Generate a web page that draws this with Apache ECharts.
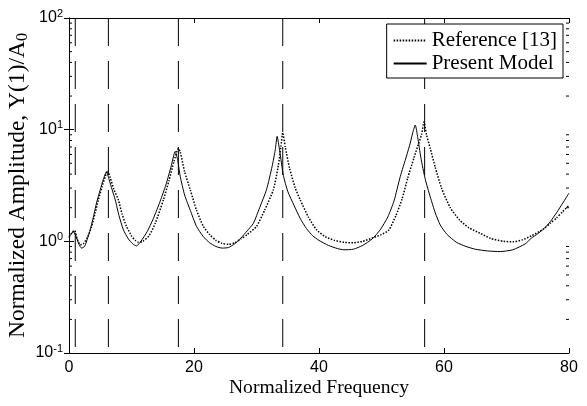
<!DOCTYPE html>
<html><head><meta charset="utf-8">
<script src="https://cdn.jsdelivr.net/npm/echarts@6/dist/echarts.min.js"></script>
<style>html,body{margin:0;padding:0;background:#fff}#c{width:587px;height:406px}</style>
</head><body><div id="c"></div>
<script>
// Reference [13] (dotted)
const refX = [0, 0.5, 0.9, 1.3, 1.8, 2.3, 3.0, 3.6, 4.2, 4.7, 5.3, 5.8, 6.2, 6.6, 7.2, 7.9, 8.5, 9.2, 10.0, 10.6, 11.1, 11.8, 12.8, 13.8, 15.1, 16.0, 16.8, 17.5, 17.8, 18.5, 19.4, 20.4, 21.5, 22.5, 23.5, 24.5, 25.5, 26.5, 27.5, 28.5, 30.0, 31.3, 32.7, 33.5, 33.9, 34.2, 34.6, 35.3, 36.2, 37.0, 38.3, 39.6, 41.0, 42.5, 44.0, 45.5, 47.0, 48.5, 50.0, 51.2, 52.3, 53.3, 54.2, 55.2, 55.9, 56.4, 56.8, 57.2, 57.8, 58.6, 59.6, 61.0, 62.5, 64.0, 65.8, 67.5, 69.5, 71.0, 72.5, 74.0, 76.0, 77.0, 78.0, 79.0, 80.0];
const refY = [1.1, 1.2, 1.25, 1.05, 0.93, 0.95, 1.1, 1.35, 1.8, 2.35, 3.1, 3.8, 4.3, 3.7, 2.9, 2.35, 1.75, 1.36, 1.12, 1.02, 0.98, 1.0, 1.12, 1.45, 2.35, 3.5, 5.2, 6.8, 6.3, 4.2, 2.9, 1.9, 1.36, 1.15, 1.02, 0.96, 0.94, 0.97, 1.05, 1.15, 1.36, 1.9, 2.9, 4.8, 7.0, 9.4, 7.0, 4.5, 3.0, 2.35, 1.65, 1.27, 1.1, 1.02, 0.98, 0.97, 1.0, 1.07, 1.15, 1.27, 1.7, 2.4, 3.7, 5.6, 7.4, 9.0, 11.7, 9.0, 6.8, 4.6, 3.0, 2.0, 1.55, 1.32, 1.18, 1.06, 1.0, 0.99, 1.03, 1.12, 1.3, 1.45, 1.62, 1.85, 2.1];
// Present Model (solid)
const modelX = [0, 0.3, 0.7, 1.2, 1.6, 2.0, 2.5, 3.0, 3.4, 4.0, 4.4, 5.0, 5.5, 6.0, 6.4, 6.9, 7.4, 8.0, 8.7, 9.5, 10.2, 10.8, 11.5, 12.5, 13.5, 14.6, 15.5, 16.3, 17.0, 17.4, 17.8, 18.5, 19.4, 20.4, 21.5, 22.5, 23.5, 24.5, 25.5, 26.5, 27.5, 28.5, 29.5, 30.5, 31.6, 32.5, 33.0, 33.3, 33.7, 34.3, 35.0, 36.0, 37.0, 38.0, 39.0, 40.0, 41.5, 43.0, 44.0, 45.5, 47.0, 48.5, 49.8, 51.0, 52.0, 53.0, 54.0, 54.6, 55.0, 55.4, 55.8, 56.3, 57.0, 57.8, 58.6, 59.4, 60.5, 62.0, 63.5, 65.0, 67.0, 69.0, 71.0, 73.0, 74.0, 75.0, 76.0, 77.0, 78.0, 79.0, 80.0];
const modelY = [1.08, 1.15, 1.22, 1.08, 0.94, 0.87, 0.9, 1.08, 1.27, 1.75, 2.2, 2.9, 3.6, 4.2, 3.6, 2.9, 2.35, 1.7, 1.27, 1.05, 0.95, 0.91, 1.0, 1.22, 1.6, 2.3, 3.2, 4.6, 6.4, 5.3, 3.8, 2.6, 1.9, 1.36, 1.1, 0.97, 0.9, 0.87, 0.88, 0.95, 1.07, 1.24, 1.45, 2.0, 2.9, 4.7, 6.6, 8.7, 6.5, 3.9, 2.8, 2.1, 1.6, 1.3, 1.12, 1.02, 0.92, 0.86, 0.84, 0.85, 0.92, 1.05, 1.27, 1.65, 2.3, 3.8, 5.8, 7.6, 9.4, 11.0, 8.5, 5.6, 3.6, 2.5, 1.8, 1.4, 1.15, 0.98, 0.9, 0.85, 0.82, 0.81, 0.84, 0.95, 1.07, 1.17, 1.3, 1.5, 1.8, 2.2, 2.7];
// Vertical dashed resonance markers
const resonanceX = [1.0, 6.3, 17.5, 34.2, 56.9];
// Axis ticks
const xTicks = [0, 20, 40, 60, 80];
const yTicks = [0.1, 1, 10, 100];
const yMinorTicks = [0.2,0.3,0.4,0.5,0.6,0.7,0.8,0.9, 2,3,4,5,6,7,8,9, 20,30,40,50,60,70,80,90];

const zip = (xs, ys) => xs.map((x, i) => [x, ys[i]]);
const chart = echarts.init(document.getElementById('c'), null, {renderer: 'canvas'});
const serif = '"Liberation Serif", "Times New Roman", serif';
const sans = '"Liberation Sans", Arial, sans-serif';

const dashedSeries = resonanceX.map(x => ({
  type: 'line', data: [[x, yTicks[yTicks.length - 1]], [x, yTicks[0]]],
  symbol: 'none', silent: true, z: 1,
  lineStyle: {color: '#000', width: 1, type: [28, 15]}
}));

const minorSeries = {
  type: 'custom', silent: true, z: 5, clip: false,
  data: yMinorTicks.map(v => [xTicks[0], v]),
  renderItem: (params, api) => {
    const v = api.value(1);
    const l = api.coord([xTicks[0], v]);
    const r = api.coord([xTicks[xTicks.length - 1], v]);
    const st = {stroke: '#000', lineWidth: 1};
    return {type: 'group', children: [
      {type: 'line', shape: {x1: l[0], y1: l[1], x2: l[0] + 3, y2: l[1]}, style: st},
      {type: 'line', shape: {x1: r[0], y1: r[1], x2: r[0] - 3, y2: r[1]}, style: st}
    ]};
  }
};

chart.setOption({
  animation: false,
  backgroundColor: '#fff',
  grid: {left: 69, right: 18, top: 18, bottom: 53, containLabel: false, outerBoundsMode: 'none'},
  legend: {
    right: 24, top: 24, orient: 'vertical', align: 'left',
    backgroundColor: '#fff', borderColor: '#000', borderWidth: 1, borderRadius: 0,
    padding: [6, 6, 4, 6], itemGap: 2, itemWidth: 33, itemHeight: 14,
    itemStyle: {opacity: 0},
    textStyle: {fontFamily: serif, fontSize: 21, color: '#000'},
    data: ['Reference [13]', 'Present Model']
  },
  xAxis: [{
    type: 'value', min: xTicks[0], max: xTicks[xTicks.length - 1], interval: 20,
    name: 'Normalized Frequency', nameLocation: 'middle', nameGap: 25, nameMoveOverlap: false,
    nameTextStyle: {fontFamily: serif, fontSize: 19.6, color: '#000'},
    axisLine: {lineStyle: {color: '#000', width: 1}},
    axisTick: {inside: true, length: 5, lineStyle: {color: '#000'}},
    axisLabel: {fontFamily: sans, fontSize: 16, color: '#000', margin: 7},
    splitLine: {show: false}
  }, {
    type: 'value', position: 'top', min: xTicks[0], max: xTicks[xTicks.length - 1], interval: 20,
    axisLine: {show: true, lineStyle: {color: '#000', width: 1}},
    axisTick: {inside: true, length: 5, lineStyle: {color: '#000'}},
    axisLabel: {show: false}, splitLine: {show: false}
  }],
  yAxis: [{
    type: 'log', logBase: 10, min: yTicks[0], max: yTicks[yTicks.length - 1],
    name: '{t|Normalized Amplitude, Y(1)/A}{s|0}', nameLocation: 'middle', nameGap: 38, nameRotate: 90,
    nameMoveOverlap: false,
    nameTextStyle: {
      fontFamily: serif, fontSize: 23.5, color: '#000',
      rich: {t: {fontFamily: serif, fontSize: 23.5, color: '#000'},
             s: {fontFamily: serif, fontSize: 16, color: '#000', padding: [10, 0, 0, 0]}}
    },
    axisLine: {show: true, lineStyle: {color: '#000', width: 1}},
    axisTick: {inside: true, length: 5, lineStyle: {color: '#000'}},
    axisLabel: {
      margin: 6, color: '#000',
      formatter: v => '{b|10}{e|' + Math.round(Math.log10(v)) + '}',
      rich: {b: {fontFamily: sans, fontSize: 16, color: '#000'},
             e: {fontFamily: sans, fontSize: 11, color: '#000', padding: [0, 0, 9, 0]}}
    },
    splitLine: {show: false}, minorTick: {show: false}
  }, {
    type: 'log', logBase: 10, position: 'right', min: yTicks[0], max: yTicks[yTicks.length - 1],
    axisLine: {show: true, lineStyle: {color: '#000', width: 1}},
    axisTick: {inside: true, length: 5, lineStyle: {color: '#000'}},
    axisLabel: {show: false}, splitLine: {show: false}
  }],
  series: [
    ...dashedSeries,
    minorSeries,
    {
      name: 'Reference [13]', type: 'line', data: zip(refX, refY), symbol: 'none', showSymbol: false,
      smooth: 0.2, z: 3, lineStyle: {color: '#000', width: 1.5, type: [1.5, 1.5]},
      itemStyle: {color: '#000'}
    },
    {
      name: 'Present Model', type: 'line', data: zip(modelX, modelY), symbol: 'none', showSymbol: false,
      smooth: 0.2, z: 4, lineStyle: {color: '#000', width: 1, type: 'solid'},
      itemStyle: {color: '#000'}
    }
  ]
});
</script></body></html>
